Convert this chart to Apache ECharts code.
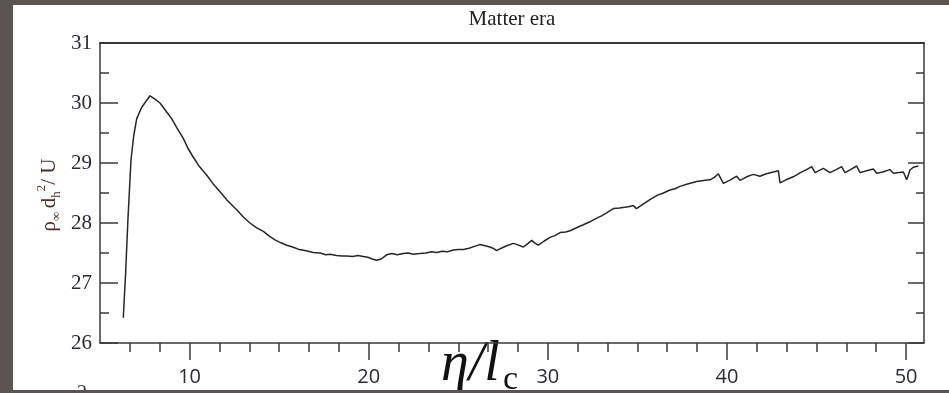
<!DOCTYPE html>
<html>
<head>
<meta charset="utf-8">
<script src="https://cdn.jsdelivr.net/npm/echarts@6/dist/echarts.min.js"></script>
<style>
html,body{margin:0;padding:0;width:949px;height:393px;background:#5b5352;overflow:hidden;}
#chart{position:absolute;left:13px;top:5px;width:936px;height:385px;background:#ffffff;}
</style>
</head>
<body>
<div id="chart"></div>
<script>
// ---- data ----
const xVals = [6.30,6.43,6.55,6.73,6.88,7.05,7.33,7.55,7.79,8.05,8.35,8.65,9.00,9.30,9.65,9.90,10.20,10.55,10.95,11.30,11.70,12.10,12.63,13.00,13.37,13.75,14.12,14.45,14.77,15.10,15.42,15.75,16.10,16.45,16.90,17.30,17.60,17.84,18.20,18.50,18.77,19.10,19.40,19.70,19.95,20.20,20.44,20.70,21.00,21.30,21.60,21.93,22.20,22.50,22.86,23.20,23.50,23.80,24.10,24.40,24.72,25.00,25.30,25.60,25.90,26.20,26.50,26.77,27.00,27.14,27.40,27.70,28.07,28.30,28.63,28.90,29.10,29.30,29.47,29.80,30.12,30.40,30.68,31.00,31.24,31.60,31.98,32.35,32.73,33.00,33.28,33.66,34.00,34.20,34.50,34.77,34.95,35.30,35.70,36.10,36.45,36.82,37.10,37.38,37.80,38.31,38.70,39.05,39.30,39.52,39.80,40.20,40.54,40.73,41.10,41.47,41.84,42.20,42.59,42.87,42.96,43.30,43.70,44.10,44.45,44.73,44.92,45.38,45.75,46.10,46.40,46.59,46.90,47.24,47.43,47.80,48.17,48.36,48.70,49.10,49.29,49.60,49.85,50.03,50.12,50.21,50.40,50.68];
const yVals = [26.42,27.16,28.00,29.05,29.45,29.74,29.93,30.02,30.12,30.07,30.00,29.88,29.74,29.58,29.41,29.25,29.10,28.94,28.80,28.66,28.52,28.38,28.22,28.10,28.00,27.92,27.86,27.78,27.72,27.67,27.63,27.60,27.56,27.54,27.51,27.50,27.47,27.48,27.46,27.45,27.45,27.44,27.46,27.44,27.43,27.40,27.38,27.40,27.47,27.49,27.47,27.49,27.50,27.48,27.49,27.50,27.52,27.51,27.53,27.52,27.55,27.56,27.56,27.58,27.61,27.64,27.62,27.60,27.57,27.54,27.58,27.62,27.66,27.64,27.60,27.66,27.71,27.66,27.63,27.70,27.76,27.79,27.84,27.85,27.87,27.92,27.97,28.02,28.08,28.12,28.17,28.24,28.25,28.26,28.27,28.29,28.24,28.31,28.39,28.46,28.50,28.55,28.57,28.61,28.65,28.69,28.71,28.72,28.76,28.82,28.66,28.72,28.78,28.71,28.77,28.81,28.78,28.82,28.85,28.87,28.67,28.72,28.77,28.84,28.89,28.94,28.84,28.91,28.84,28.89,28.94,28.84,28.89,28.95,28.84,28.87,28.90,28.83,28.85,28.89,28.83,28.84,28.85,28.72,28.79,28.88,28.93,28.95];
const xMajorTicks = [10, 20, 30, 40, 50];
const xTickLabels = ['10', '20', '30', '40', '50'];
const yTickLabels = ['26', '27', '28', '29', '30', '31'];
const titleText = 'Matter era';

// minor ticks: six sub-divisions per major interval
const xMinorTicks = [];
for (let k = -3; k <= 25; k++) {
  const v = 10 + k * 10 / 6;
  if (k % 6 !== 0 && v > 5 && v < 51) xMinorTicks.push(+v.toFixed(4));
}

const axisColor = '#3a3a3a';
const labelColor = '#2c2838';
const nameColor = '#4a2e2a';
const chart = echarts.init(document.getElementById('chart'), null, {renderer: 'canvas'});
const option = {
  animation: false,
  grid: {left: 87, top: 38, right: 25, bottom: 47},
  xAxis: [
    {
      type: 'value', min: 5, max: 51, position: 'bottom',
      axisLine: {show: true, onZero: false, lineStyle: {color: axisColor, width: 1.5}},
      axisTick: {show: true, inside: false, length: 17, customValues: xMajorTicks, lineStyle: {color: axisColor, width: 1.5}},
      axisLabel: {show: true, customValues: xMajorTicks, margin: 24,
        formatter: v => xTickLabels[xMajorTicks.indexOf(v)] ?? '',
        fontFamily: 'Open Sans', fontSize: 20, color: labelColor},
      splitLine: {show: false}
    },
    {
      type: 'value', min: 5, max: 51, position: 'bottom',
      axisLine: {show: false},
      axisTick: {show: true, inside: false, length: 9, customValues: xMinorTicks, lineStyle: {color: axisColor, width: 1.5}},
      axisLabel: {show: false},
      splitLine: {show: false}
    },
    {
      type: 'value', min: 5, max: 51, position: 'top',
      axisLine: {show: true, onZero: false, lineStyle: {color: axisColor, width: 2}},
      axisTick: {show: false}, axisLabel: {show: false}, splitLine: {show: false}
    }
  ],
  yAxis: [
    {
      type: 'value', min: 26, max: 31, interval: 1, position: 'left',
      axisLine: {show: true, onZero: false, lineStyle: {color: axisColor, width: 1.5}},
      axisTick: {show: true, inside: true, length: 18, lineStyle: {color: axisColor, width: 1.5}},
      minorTick: {show: true, splitNumber: 2, length: 9, lineStyle: {color: axisColor, width: 1.5}},
      axisLabel: {show: true, margin: 8, fontFamily: 'Liberation Serif', fontSize: 21, color: labelColor,
        formatter: v => yTickLabels[Math.round(v - 26)] ?? ''},
      splitLine: {show: false}
    },
    {
      type: 'value', min: 26, max: 31, interval: 1, position: 'right',
      axisLine: {show: true, onZero: false, lineStyle: {color: axisColor, width: 1.5}},
      axisTick: {show: true, inside: true, length: 16, lineStyle: {color: axisColor, width: 1.5}},
      minorTick: {show: true, splitNumber: 2, length: 8, lineStyle: {color: axisColor, width: 1.5}},
      axisLabel: {show: false}, splitLine: {show: false}
    }
  ],
  series: [{
    type: 'line', xAxisIndex: 0, yAxisIndex: 0,
    data: xVals.map((x, i) => [x, yVals[i]]),
    showSymbol: false, symbol: 'none',
    lineStyle: {color: '#262626', width: 1.5}
  }],
  graphic: [
    {type: 'text', x: 499, y: 4, style: {text: titleText, font: '21px "Liberation Serif"', fill: '#222', align: 'center', verticalAlign: 'top'}},
    {type: 'text', x: 36, y: 190, rotation: Math.PI / 2,
      style: {
        text: '{a|ρ}{s|∞} {a|d}{s|h}{p|2}{a|/ U}',
        align: 'center', verticalAlign: 'middle', fill: nameColor,
        rich: {
          a: {fontFamily: 'Liberation Serif', fontSize: 21, lineHeight: 28, fill: nameColor},
          s: {fontFamily: 'Liberation Serif', fontSize: 13, lineHeight: 13, verticalAlign: 'bottom', fill: nameColor},
          p: {fontFamily: 'Liberation Serif', fontSize: 13, lineHeight: 13, verticalAlign: 'top', fill: nameColor}
        }
      }},
    {type: 'text', x: 428, y: 328,
      style: {
        text: '{i|η/l}{c|c}', align: 'left', verticalAlign: 'top', fill: '#111',
        rich: {
          i: {fontFamily: 'Liberation Serif', fontStyle: 'italic', fontSize: 56, lineHeight: 64, fill: '#111'},
          c: {fontFamily: 'Liberation Serif', fontSize: 34, lineHeight: 42, verticalAlign: 'bottom', fill: '#111', padding: [0, 0, 0, 3]}
        }
      }},
    {type: 'text', x: 64, y: 379, style: {text: '2', font: '20px "Liberation Serif"', fill: '#333', align: 'left', verticalAlign: 'top'}}
  ]
};
chart.setOption(option);
</script>
</body>
</html>
